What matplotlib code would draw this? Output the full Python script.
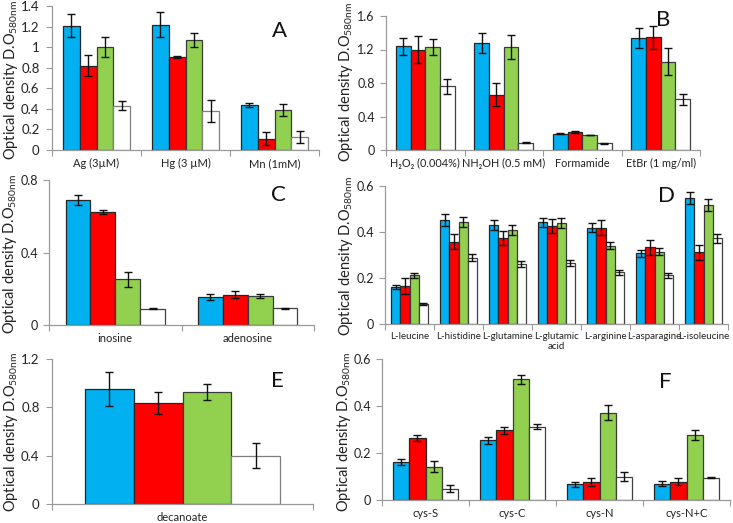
import matplotlib
matplotlib.use('Agg')
import matplotlib.pyplot as plt
import numpy as np

plt.rcParams['font.family'] = ['Lato', 'DejaVu Sans']
plt.rcParams['mathtext.fontset'] = 'custom'
plt.rcParams['mathtext.rm'] = 'Lato'
plt.rcParams['mathtext.default'] = 'regular'

# ---------------- data ----------------
# Panel A
a_cats = ['Ag (3µM)', 'Hg (3 µM)', 'Mn (1mM)']
a_blue = [1.21, 1.22, 0.44]
a_red = [0.82, 0.90, 0.11]
a_green = [1.00, 1.07, 0.39]
a_white = [0.43, 0.38, 0.13]
a_blue_err = [0.115, 0.125, 0.02]
a_red_err = [0.10, 0.01, 0.065]
a_green_err = [0.097, 0.07, 0.058]
a_white_err = [0.045, 0.105, 0.058]
a_yticks = [0, 0.2, 0.4, 0.6, 0.8, 1, 1.2, 1.4]
a_yticklabels = ['0', '0.2', '0.4', '0.6', '0.8', '1', '1.2', '1.4']

# Panel B
b_cats = ['H₂O₂ (0.004%)', 'NH₂OH (0.5 mM)', 'Formamide', 'EtBr (1 mg/ml)']
b_blue = [1.24, 1.28, 0.196, 1.34]
b_red = [1.20, 0.66, 0.216, 1.345]
b_green = [1.23, 1.23, 0.18, 1.055]
b_white = [0.76, 0.087, 0.078, 0.605]
b_blue_err = [0.10, 0.118, 0.01, 0.118]
b_red_err = [0.165, 0.14, 0.01, 0.135]
b_green_err = [0.10, 0.14, 0.004, 0.165]
b_white_err = [0.088, 0.005, 0.004, 0.066]
b_yticks = [0, 0.4, 0.8, 1.2, 1.6]
b_yticklabels = ['0', '0.4', '0.8', '1.2', '1.6']

# Panel C
c_cats = ['inosine', 'adenosine']
c_blue = [0.69, 0.153]
c_red = [0.622, 0.168]
c_green = [0.252, 0.16]
c_white = [0.09, 0.092]
c_blue_err = [0.027, 0.016]
c_red_err = [0.01, 0.02]
c_green_err = [0.04, 0.01]
c_white_err = [0.004, 0.003]
c_yticks = [0, 0.4, 0.8]
c_yticklabels = ['0', '0.4', '0.8']

# Panel D
d_cats = ['L-leucine', 'L-histidine', 'L-glutamine', 'L-glutamic\nacid',
          'L-arginine', 'L-asparagine', 'L-isoleucine']
d_blue = [0.16, 0.452, 0.429, 0.442, 0.419, 0.308, 0.548]
d_red = [0.165, 0.358, 0.373, 0.426, 0.419, 0.334, 0.312]
d_green = [0.212, 0.445, 0.408, 0.438, 0.34, 0.315, 0.516]
d_white = [0.087, 0.289, 0.263, 0.265, 0.224, 0.211, 0.372]
d_blue_err = [0.008, 0.025, 0.022, 0.021, 0.021, 0.015, 0.027]
d_red_err = [0.035, 0.032, 0.031, 0.03, 0.032, 0.033, 0.033]
d_green_err = [0.01, 0.022, 0.022, 0.021, 0.015, 0.015, 0.026]
d_white_err = [0.003, 0.015, 0.013, 0.012, 0.01, 0.01, 0.019]
d_yticks = [0, 0.2, 0.4, 0.6]
d_yticklabels = ['0', '0.2', '0.4', '0.6']

# Panel E
e_cats = ['decanoate']
e_blue = [0.949]
e_red = [0.833]
e_green = [0.924]
e_white = [0.40]
e_blue_err = [0.14]
e_red_err = [0.09]
e_green_err = [0.066]
e_white_err = [0.105]
e_yticks = [0, 0.4, 0.8, 1.2]
e_yticklabels = ['0', '0.4', '0.8', '1.2']

# Panel F
f_cats = ['cys-S', 'cys-C', 'cys-N', 'cys-N+C']
f_blue = [0.163, 0.254, 0.067, 0.07]
f_red = [0.262, 0.296, 0.077, 0.077]
f_green = [0.142, 0.513, 0.372, 0.277]
f_white = [0.048, 0.312, 0.10, 0.094]
f_blue_err = [0.013, 0.014, 0.01, 0.012]
f_red_err = [0.013, 0.014, 0.016, 0.015]
f_green_err = [0.022, 0.02, 0.032, 0.023]
f_white_err = [0.016, 0.01, 0.02, 0.002]
f_yticks = [0, 0.2, 0.4, 0.6]
f_yticklabels = ['0', '0.2', '0.4', '0.6']

colors = ['#00B0F0', '#FF0000', '#92D050', '#FFFFFF']
edgecolors = ['#262626', '#262626', '#3a3a3a', '#404040']

W, H = 733, 523
fig = plt.figure(figsize=(W / 100, H / 100), dpi=100)

axis_grey = '#9a9a9a'
ylabel_text = 'Optical density D.O$_{580nm}$'


def panel(px, cats, series, errs, yticks, yticklabels, letter, letter_px, ylabel_px,
          white_edge='#404040', xfs=8.0, yfs=9.5, ypad=6):
    x0, x1, ytop, ybot = px
    ax = fig.add_axes([x0 / W, 1 - ybot / H, (x1 - x0) / W, (ybot - ytop) / H])
    n = len(cats)
    x = np.arange(n)
    w = 0.1875
    for i, (vals, err) in enumerate(zip(series, errs)):
        ec = edgecolors[i] if i < 3 else white_edge
        ax.bar(x + (i - 1.5) * w, vals, width=w, color=colors[i],
               edgecolor=ec, linewidth=0.9, zorder=2)
        ax.errorbar(x + (i - 1.5) * w, vals, yerr=err, fmt='none',
                    ecolor='#111111', elinewidth=1.0, capsize=2.6, capthick=1.0, zorder=3)
    ax.set_xlim(-0.5, n - 0.5)
    ax.set_ylim(0, yticks[-1])
    ax.set_yticks(yticks)
    ax.set_yticklabels(yticklabels)
    ax.set_xticks(np.arange(-0.5, n, 1.0))
    ax.set_xticklabels([])
    ax.set_xticks(x, minor=True)
    ax.set_xticklabels(cats, minor=True, fontsize=xfs, color='#222222', linespacing=1.1)
    ax.tick_params(axis='x', which='major', length=4, color=axis_grey, width=0.8, direction='out')
    ax.tick_params(axis='x', which='minor', length=0, pad=6)
    ax.tick_params(axis='y', length=4, color=axis_grey, width=0.8, labelsize=yfs,
                   labelcolor='#222222', pad=ypad)
    for s in ['top', 'right']:
        ax.spines[s].set_visible(False)
    for s in ['left', 'bottom']:
        ax.spines[s].set_color(axis_grey)
        ax.spines[s].set_linewidth(0.9)
    ax.set_facecolor('none')
    fig.text(letter_px[0] / W, 1 - letter_px[1] / H, letter, fontsize=16,
             ha='center', va='center', color='#111111')
    fig.text(ylabel_px[0] / W, 1 - ylabel_px[1] / H, ylabel_text, rotation=90,
             fontsize=10.5, ha='center', va='center', color='#222222')
    return ax


panel((52, 319, 6, 150), a_cats, [a_blue, a_red, a_green, a_white],
      [a_blue_err, a_red_err, a_green_err, a_white_err], a_yticks, a_yticklabels,
      'A', (279, 31), (11, 80), white_edge='#7f7f7f', ypad=5)
panel((386, 700, 16, 150), b_cats, [b_blue, b_red, b_green, b_white],
      [b_blue_err, b_red_err, b_green_err, b_white_err], b_yticks, b_yticklabels,
      'B', (663, 20), (346, 82), xfs=7.8, yfs=9, ypad=4)
panel((49, 314, 180, 325), c_cats, [c_blue, c_red, c_green, c_white],
      [c_blue_err, c_red_err, c_green_err, c_white_err], c_yticks, c_yticklabels,
      'C', (278, 195), (10, 254), yfs=9, ypad=4)
panel((385, 728, 186, 324), d_cats, [d_blue, d_red, d_green, d_white],
      [d_blue_err, d_red_err, d_green_err, d_white_err], d_yticks, d_yticklabels,
      'D', (667, 196), (346, 256), xfs=7.0, yfs=9, ypad=4)
panel((52, 313, 359, 504), e_cats, [e_blue, e_red, e_green, e_white],
      [e_blue_err, e_red_err, e_green_err, e_white_err], e_yticks, e_yticklabels,
      'E', (277, 381), (11, 432), white_edge='#7f7f7f', ypad=5)
panel((382, 730, 359, 500), f_cats, [f_blue, f_red, f_green, f_white],
      [f_blue_err, f_red_err, f_green_err, f_white_err], f_yticks, f_yticklabels,
      'F', (665, 382), (344, 432), yfs=9, ypad=4)

fig.savefig('out.png', dpi=100)
